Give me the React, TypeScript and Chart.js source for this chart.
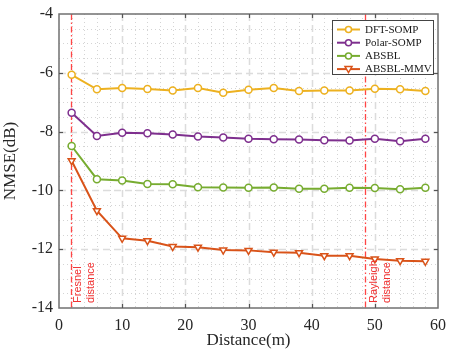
import React, { useEffect, useRef } from 'react';
import { Chart, registerables } from 'chart.js';

Chart.register(...registerables);

const distances = [2, 6, 10, 14, 18, 22, 26, 30, 34, 38, 42, 46, 50, 54, 58];
const dftSomp = [-6.07, -6.56, -6.52, -6.55, -6.6, -6.52, -6.68, -6.58, -6.52, -6.62, -6.6, -6.6, -6.54, -6.56, -6.62];
const polarSomp = [-7.36, -8.15, -8.04, -8.06, -8.1, -8.17, -8.2, -8.24, -8.26, -8.27, -8.29, -8.3, -8.24, -8.33, -8.24];
const absbl = [-8.49, -9.62, -9.66, -9.78, -9.79, -9.89, -9.9, -9.91, -9.9, -9.94, -9.94, -9.91, -9.92, -9.96, -9.91];
const absblMmv = [-8.99, -10.69, -11.63, -11.71, -11.91, -11.93, -12.03, -12.04, -12.1, -12.12, -12.22, -12.22, -12.33, -12.39, -12.41];

const seriesNames = ['DFT-SOMP', 'Polar-SOMP', 'ABSBL', 'ABSBL-MMV'];
const seriesColors = ['#EDB120', '#7E2F8E', '#77AC30', '#D95319'];
const seriesMarkers = ['circle', 'circle', 'circle', 'triangle'];

const xMin = 0, xMax = 60, xMajor = 10, xMinor = 2;
const yMin = -14, yMax = -4, yMajor = 2, yMinor = 0.5;
const fresnelX = 1.85;
const rayleighX = 48.5;
const fresnelLabel = ['Fresnel', 'distance'];
const rayleighLabel = ['Rayleigh', 'distance'];

const SERIF = '"Liberation Serif", "Times New Roman", serif';
const SANS = '"Liberation Sans", Arial, sans-serif';

const decorPlugin = {
  id: 'decor',
  beforeDatasetsDraw(chart: any) {
    const { ctx, chartArea: a, scales } = chart;
    const xs = scales.x, ys = scales.y;
    ctx.save();
    ctx.beginPath();
    ctx.rect(a.left, a.top, a.right - a.left, a.bottom - a.top);
    ctx.clip();
    // minor grid
    ctx.strokeStyle = '#d4d4d4';
    ctx.lineWidth = 1;
    ctx.setLineDash([1, 3]);
    for (let v = xMin; v <= xMax + 1e-9; v += xMinor) {
      if (Math.abs(v / xMajor - Math.round(v / xMajor)) < 1e-6) continue;
      const px = Math.round(xs.getPixelForValue(v)) + 0.5;
      ctx.beginPath(); ctx.moveTo(px, a.top); ctx.lineTo(px, a.bottom); ctx.stroke();
    }
    for (let v = yMin; v <= yMax + 1e-9; v += yMinor) {
      if (Math.abs(v / yMajor - Math.round(v / yMajor)) < 1e-6) continue;
      const py = Math.round(ys.getPixelForValue(v)) + 0.5;
      ctx.beginPath(); ctx.moveTo(a.left, py); ctx.lineTo(a.right, py); ctx.stroke();
    }
    // major grid
    ctx.strokeStyle = '#dcdcdc';
    ctx.lineWidth = 1.5;
    ctx.setLineDash([7, 4]);
    for (let v = xMin + xMajor; v < xMax; v += xMajor) {
      const px = Math.round(xs.getPixelForValue(v)) + 0.5;
      ctx.beginPath(); ctx.moveTo(px, a.top); ctx.lineTo(px, a.bottom); ctx.stroke();
    }
    for (let v = yMin + yMajor; v < yMax; v += yMajor) {
      const py = Math.round(ys.getPixelForValue(v)) + 0.5;
      ctx.beginPath(); ctx.moveTo(a.left, py); ctx.lineTo(a.right, py); ctx.stroke();
    }
    // red reference lines
    ctx.strokeStyle = '#FF4545';
    ctx.lineWidth = 1.3;
    ctx.setLineDash([6, 2.5, 1.5, 2.5]);
    [fresnelX, rayleighX].forEach((v) => {
      const px = Math.round(xs.getPixelForValue(v)) + 0.5;
      ctx.beginPath(); ctx.moveTo(px, a.top); ctx.lineTo(px, a.bottom); ctx.stroke();
    });
    ctx.restore();
  },
  afterDraw(chart: any) {
    const { ctx, chartArea: a, scales } = chart;
    const xs = scales.x, ys = scales.y;
    ctx.save();
    // annotation text
    ctx.fillStyle = '#F03030';
    ctx.font = `11px ${SANS}`;
    ctx.textAlign = 'left';
    ctx.textBaseline = 'middle';
    const drawRot = (lines: string[], v: number, off: number) => {
      const px = xs.getPixelForValue(v);
      lines.forEach((t, i) => {
        ctx.save();
        ctx.translate(px + off + i * 13, a.bottom - 5);
        ctx.rotate(-Math.PI / 2);
        ctx.fillText(t, 0, 0);
        ctx.restore();
      });
    };
    drawRot(fresnelLabel, fresnelX, 7.5);
    drawRot(rayleighLabel, rayleighX, 8.5);

    // box
    ctx.strokeStyle = '#707070';
    ctx.lineWidth = 1.5;
    ctx.setLineDash([]);
    ctx.strokeRect(a.left, a.top, a.right - a.left, a.bottom - a.top);
    // inner ticks
    ctx.lineWidth = 1.2;
    ctx.strokeStyle = '#555';
    const tl = 4;
    for (let v = xMin + xMajor; v < xMax; v += xMajor) {
      const px = Math.round(xs.getPixelForValue(v)) + 0.5;
      ctx.beginPath(); ctx.moveTo(px, a.bottom); ctx.lineTo(px, a.bottom - tl); ctx.stroke();
      ctx.beginPath(); ctx.moveTo(px, a.top); ctx.lineTo(px, a.top + tl); ctx.stroke();
    }
    for (let v = yMin + yMajor; v < yMax; v += yMajor) {
      const py = Math.round(ys.getPixelForValue(v)) + 0.5;
      ctx.beginPath(); ctx.moveTo(a.left, py); ctx.lineTo(a.left + tl, py); ctx.stroke();
      ctx.beginPath(); ctx.moveTo(a.right, py); ctx.lineTo(a.right - tl, py); ctx.stroke();
    }

    // legend
    const lx = a.right - 106, ly = a.top + 6, lw = 101, lh = 54;
    ctx.fillStyle = '#ffffff';
    ctx.fillRect(lx, ly, lw, lh);
    ctx.strokeStyle = '#444';
    ctx.lineWidth = 1;
    ctx.strokeRect(lx + 0.5, ly + 0.5, lw, lh);
    ctx.font = `11px ${SERIF}`;
    ctx.textBaseline = 'middle';
    ctx.textAlign = 'left';
    seriesNames.forEach((name, i) => {
      const y = ly + 9.5 + i * 13.2;
      const c = seriesColors[i];
      ctx.strokeStyle = c;
      ctx.lineWidth = 2;
      ctx.beginPath(); ctx.moveTo(lx + 5, y); ctx.lineTo(lx + 28, y); ctx.stroke();
      ctx.lineWidth = 1.5;
      ctx.fillStyle = '#fff';
      if (seriesMarkers[i] === 'triangle') {
        ctx.beginPath();
        ctx.moveTo(lx + 16.5 - 3.5, y - 2.5);
        ctx.lineTo(lx + 16.5 + 3.5, y - 2.5);
        ctx.lineTo(lx + 16.5, y + 3.5);
        ctx.closePath();
        ctx.fill(); ctx.stroke();
      } else {
        ctx.beginPath(); ctx.arc(lx + 16.5, y, 3, 0, Math.PI * 2); ctx.fill(); ctx.stroke();
      }
      ctx.fillStyle = '#1a1a1a';
      ctx.fillText(name, lx + 33, y + 0.5);
    });
    ctx.restore();
  },
};

export default function App() {
  const ref = useRef<HTMLCanvasElement | null>(null);
  useEffect(() => {
    document.body.style.margin = '0';
    const canvas = ref.current;
    if (!canvas) return;
    const seriesData = [dftSomp, polarSomp, absbl, absblMmv];
    const chart = new Chart(canvas, {
      type: 'line',
      data: {
        labels: distances,
        datasets: seriesData.map((vals, i) => ({
          label: seriesNames[i],
          data: vals.map((v, j) => ({ x: distances[j], y: v })),
          borderColor: seriesColors[i],
          backgroundColor: '#ffffff',
          borderWidth: 2,
          pointStyle: seriesMarkers[i] as any,
          pointRotation: seriesMarkers[i] === 'triangle' ? 180 : 0,
          pointRadius: seriesMarkers[i] === 'triangle' ? 4 : 3.5,
          pointBorderWidth: 1.5,
          tension: 0,
        })),
      },
      options: {
        responsive: false,
        animation: false,
        layout: { padding: { left: 0, top: 14, right: 11, bottom: 0 } },
        plugins: { legend: { display: false }, tooltip: { enabled: false } },
        scales: {
          x: {
            type: 'linear',
            min: xMin,
            max: xMax,
            grid: { display: false, drawTicks: false },
            border: { display: false },
            ticks: {
              stepSize: xMajor,
              padding: 8,
              color: '#262626',
              font: { family: SERIF, size: 16 },
              maxRotation: 0,
            },
            title: {
              display: true,
              text: 'Distance(m)',
              color: '#262626',
              font: { family: SERIF, size: 17 },
              padding: { top: 0, bottom: 2 },
            },
            afterFit: (s: any) => {
              s.height = 45;
              s.paddingLeft = 0;
              s.paddingRight = 0;
            },
          },
          y: {
            min: yMin,
            max: yMax,
            grid: { display: false, drawTicks: false },
            border: { display: false },
            ticks: {
              stepSize: yMajor,
              padding: 6,
              color: '#262626',
              font: { family: SERIF, size: 16 },
            },
            title: {
              display: true,
              text: 'NMSE(dB)',
              color: '#262626',
              font: { family: SERIF, size: 17 },
              padding: { top: 0, bottom: 0 },
            },
            afterFit: (s: any) => {
              s.width = 59;
              s.paddingTop = 0;
              s.paddingBottom = 0;
            },
          },
        },
      },
      plugins: [decorPlugin],
    } as any);
    return () => chart.destroy();
  }, []);
  return <canvas ref={ref} width={449} height={353} style={{ display: 'block' }} />;
}
